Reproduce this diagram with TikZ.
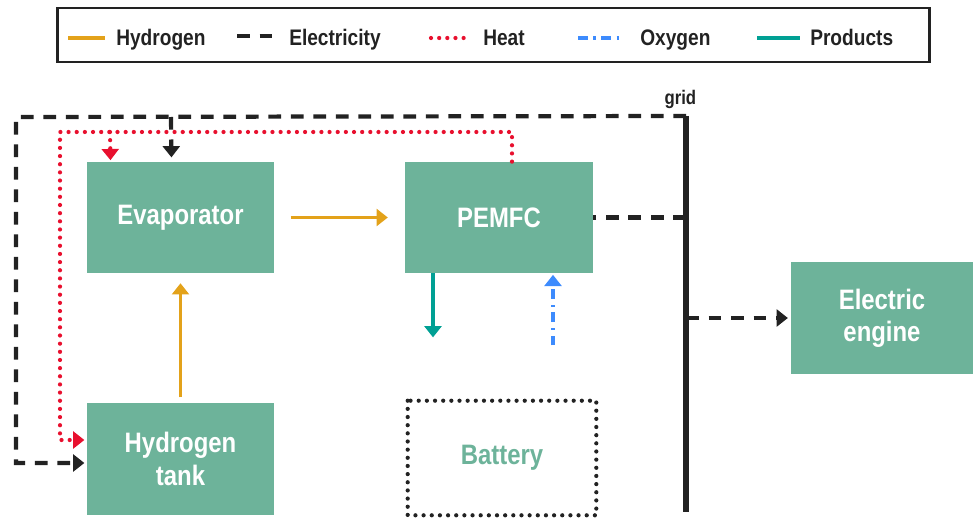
\documentclass[tikz,border=0pt]{standalone}
\usepackage{fontspec}
\setmainfont{Liberation Sans}[FakeStretch=0.85]
\usepackage{xcolor}
\usetikzlibrary{arrows.meta, positioning, calc}
\definecolor{unitgreen}{HTML}{6DB39A}
\definecolor{hydro}{HTML}{E3A21A}
\definecolor{heatred}{HTML}{E8102E}
\definecolor{oxblue}{HTML}{3D8BFD}
\definecolor{prodteal}{HTML}{00A094}
\definecolor{elecblack}{HTML}{222222}

\begin{document}
\begin{tikzpicture}[
    x=0.025cm, y=-0.025cm,
    >={Triangle[length=8pt, width=12pt]},
    unit/.style={fill=unitgreen, text=white, font=\bfseries\fontsize{20}{23}\selectfont, minimum width=4.65cm, minimum height=2.78cm, align=center, inner sep=0pt},
    hyd/.style={hydro, line width=2.6pt},
    elec/.style={elecblack, line width=3pt, dash pattern=on 9pt off 7pt},
    heat/.style={heatred, line width=3pt, line cap=round, dash pattern=on 0pt off 5.8pt},
    oxy/.style={oxblue, line width=2.8pt, dash pattern=on 7pt off 4pt on 1.5pt off 4pt},
    prod/.style={prodteal, line width=2.8pt},
    legtext/.style={font=\bfseries\fontsize{16}{18}\selectfont, anchor=base west, inner sep=0pt, text=elecblack},
]
    \useasboundingbox (0,0) rectangle (973,518);

    % Legend
    \node[draw=elecblack, line width=1.8pt, minimum width=21.8cm, minimum height=1.35cm] (legend) at (493.5,35) {};
    \draw[hyd] (68,38) -- (105,38);
    \node[legtext] (lhyd) at (116,46) {Hydrogen};
    \draw[elec] (237,36) -- (272,36);
    \node[legtext] (lelec) at (289,46) {Electricity};
    \draw[heat] (431,38) -- (470,38);
    \node[legtext] (lheat) at (483,46) {Heat};
    \draw[oxy] (578,38) -- (621,38);
    \node[legtext] (loxy) at (640,46) {Oxygen};
    \draw[prod] (757,38) -- (800,38);
    \node[legtext] (lprod) at (810,46) {Products};

    % Units
    \node[unit] (evap) at (180.5,217.5) {Evaporator};
    \node[unit, minimum width=4.7cm] (pemfc) at (499,217.5) {PEMFC};
    \node[unit] (tank) at (180.5,459) {Hydrogen\\tank};
    \node[unit, fill=none, text=unitgreen, minimum width=4.7cm, minimum height=2.85cm] (battery) at (502,458) {Battery};
    \draw[heat, elecblack, line width=3pt] (battery.north west) rectangle (battery.south east);
    \node[unit, minimum width=4.55cm, minimum height=2.8cm] (engine) at (882,318) {Electric\\engine};

    % Grid bus
    \coordinate (gtop) at (686,116);
    \coordinate (gbot) at (686,512);
    \draw[elecblack, line width=4.4pt] (gtop) -- (gbot);
    \node[font=\bfseries\fontsize{14}{16}\selectfont, text=elecblack, above=2pt of gtop, xshift=-4pt] (gridlabel) {grid};

    % Electricity
    \draw[elec] (pemfc.east -| gtop) -- (pemfc.east);
    \draw[elec] ($(battery.east)+(0,5)$ -| gtop) -- ($(battery.east)+(0,5)$);
    \draw[elec, ->, shorten >=2pt] (gtop |- engine.west) -- (engine.west);
    \draw[elec, ->, shorten >=2pt] (gtop) -- (16,117) |- ($(tank.west)+(0,4)$);
    \draw[elec, ->, shorten >=3pt] (171,117) -- ($(evap.north)+(-9,0)$);

    % Heat
    \draw[heat, ->, shorten >=2pt] ($(pemfc.north)+(13,0)$) |- (60,132) |- ($(tank.west)+(0,-19)$);
    \draw[heat, ->, shorten >=1pt] (110,132) -- ($(evap.north)+(-70,0)$);

    % Hydrogen
    \draw[hyd, ->, shorten <=12pt, shorten >=12pt] (evap) -- (pemfc);
    \draw[hyd, ->, shorten <=4pt, shorten >=7pt] (tank) -- (evap);

    % Products and oxygen
    \draw[prod, ->] ($(pemfc.south)+(-66,0)$) -- ++(0,64);
    \draw[oxy, ->, shorten >=1pt] ($(pemfc.south)+(54,72)$) -- ($(pemfc.south)+(54,0)$);
\end{tikzpicture}
\end{document}
